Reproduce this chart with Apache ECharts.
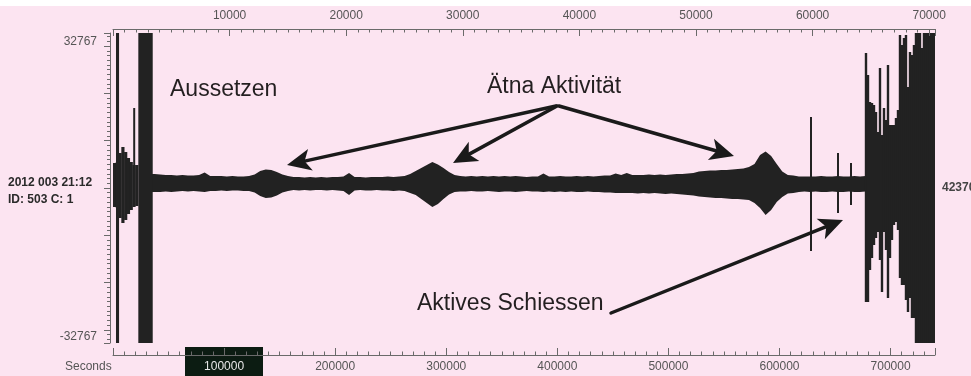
<!DOCTYPE html>
<html><head><meta charset="utf-8">
<script src="https://cdn.jsdelivr.net/npm/echarts@6/dist/echarts.min.js"></script>
<style>html,body{margin:0;padding:0;background:#fce4f1;overflow:hidden}#c{width:971px;height:376px}</style>
</head><body><div id="c"></div>
<script>
// ---------------- data (seconds / counts) ----------------
const SAT = 32767;
// quiet band envelope, 5000 s bins starting at 35000 s
const bandStart = 35000, bandStep = 5000;
const bandHi = [2960,2850,2750,2750,2640,2750,2640,2640,2750,3280,
  2540,2540,2540,2430,2540,2430,2430,2540,2850,3590,
  3910,3800,3380,2850,2540,2330,2330,2220,2330,2220,
  2330,2220,2330,2330,2430,3170,2330,2330,2220,2330,
  2330,2330,2430,2330,2430,2540,2960,3590,4230,4860,
  5500,4970,4230,3380,2750,2540,2430,2540,2430,2540,
  2430,2540,2430,2540,2430,2540,2430,2330,2430,2430,
  3070,2430,2430,2540,2430,2430,2540,2430,2540,2430,
  2540,2640,2640,3070,2750,3170,2750,2750,2750,2850,
  2750,2850,2750,2850,2960,2960,3070,3170,3490,3590,
  3700,3700,3800,3800,3910,4020,4120,4440,5070,6980,
  7720,6770,5070,3490,2750,2640,2430,2430,2430,2430,
  2540,2430,2430,2540,2430,2430,2540,2430,2540];
const bandLo = [-850,-850,-740,-850,-740,-630,-740,-630,-740,-850,
  -630,-630,-530,-630,-530,-530,-630,-630,-950,-1690,
  -2110,-2010,-1590,-950,-630,-420,-530,-420,-530,-420,
  -420,-530,-420,-530,-630,-1480,-530,-420,-530,-530,
  -420,-530,-530,-630,-530,-630,-1060,-1480,-2330,-3170,
  -4020,-3380,-2330,-1370,-850,-740,-740,-630,-740,-740,
  -630,-740,-850,-740,-740,-850,-740,-630,-740,-740,
  -850,-740,-850,-740,-850,-740,-850,-850,-740,-850,
  -850,-950,-950,-1060,-1060,-1060,-1060,-1160,-1060,-1160,
  -1060,-1160,-1270,-1160,-1270,-1370,-1480,-1590,-1800,-1900,
  -2010,-2110,-2110,-2220,-2330,-2330,-2430,-2540,-3170,-4230,
  -5710,-4650,-2960,-1900,-1160,-1060,-850,-740,-850,-740,
  -850,-850,-740,-850,-850,-740,-850,-850,-740];
// noisy start of the record, 2500 s bins from 0 s
const leftStart = 0, leftStep = 2500;
const leftHi = [5285,5500,7400,8670,7610,6340,5500,4860,4860];
const leftLo = [-4020,-4230,-6340,-7400,-6760,-5500,-4650,-4020,-3800];
// clipped (saturated) segments, seconds
const satStart = [2700, 22800];
const satEnd   = [5100, 35400];
// isolated spikes
const spikeT  = [18900, 628200, 652500, 664200];
const spikeHi = [16910, 15010, 7400, 5290];
const spikeLo = [-3590, -13320, -5290, -3590];
// shooting section, 1800 s columns from 676800 s
const blockStart = 676800, blockStep = 1800;
const blockHi = [28540,23890,18180,17970,17550,16070,11840,25370,11200,16910,
  14380,26000,13320,13320,13320,14800,16490,32340,30230,31710,
  32340,21350,28750,28120,30230,32767,32767,32767,29600,32767,
  32767,32767,32767,32767,32767];
const blockLo = [-24100,-24100,-17330,-14800,-12050,-10570,-9300,-15220,-21990,-9300,
  -13110,-23250,-14800,-10990,-7820,-7190,-8880,-19030,-20510,-20510,
  -23680,-26210,-23250,-27480,-27480,-32767,-32767,-32767,-32767,-32767,
  -32767,-32767,-32767,-32767,-32767];
// axes
const secMax = 740000, topMax = 70500;
const bottomLabels = [100000,200000,300000,400000,500000,600000,700000];
const topLabels = [10000,20000,30000,40000,50000,60000,70000];
const yLabels = [-32767, 32767];

// ---------------- build ----------------
const INK = '#222';
const rects = [];
leftHi.forEach((h,i)=>rects.push([leftStart+i*leftStep, leftStart+(i+1)*leftStep, leftLo[i], h]));
blockHi.forEach((h,i)=>rects.push([blockStart+i*blockStep, blockStart+(i+1)*blockStep, blockLo[i], h]));
satStart.forEach((s,i)=>rects.push([s, satEnd[i], -SAT, SAT]));
const spikes = spikeT.map((t,i)=>[t, t, spikeLo[i], spikeHi[i]]);

function renderRect(params, api){
  const t0=api.value(0), t1=api.value(1), lo=api.value(2), hi=api.value(3);
  const p0=api.coord([t0,hi]), p1=api.coord([t1,lo]);
  let x=p0[0], w=p1[0]-p0[0];
  if (w<1.6){ x=(p0[0]+p1[0])/2-0.8; w=1.6; }
  return {type:'rect', shape:{x:x, y:p0[1], width:w+0.4, height:p1[1]-p0[1]}, style:{fill:INK}};
}
// band drawn as one envelope polygon through bin centres
function renderBand(params, api){
  const up=[], dn=[];
  up.push(api.coord([bandStart, bandHi[0]]));
  dn.push(api.coord([bandStart, bandLo[0]]));
  for (let i=0;i<bandHi.length;i++){
    const t=bandStart+(i+0.5)*bandStep;
    up.push(api.coord([t, bandHi[i]]));
    dn.push(api.coord([t, bandLo[i]]));
  }
  const tEnd=bandStart+bandHi.length*bandStep;
  up.push(api.coord([tEnd, bandHi[bandHi.length-1]]));
  dn.push(api.coord([tEnd, bandLo[bandLo.length-1]]));
  return {type:'polygon', shape:{points:up.concat(dn.reverse())}, style:{fill:INK}};
}
function range(a,b,s){const r=[];for(let v=a;v<=b+1e-9;v+=s)r.push(v);return r;}

const axCol = '#6a6a6a', lblCol = '#555';
const FONT = 'Liberation Sans, Arial, sans-serif';
function xAxisBase(pos, offset, max){
  return {type:'value', position:pos, offset:offset, min:0, max:max, splitLine:{show:false}, z:5};
}
const xAxes = [
  Object.assign(xAxisBase('bottom',12,secMax), {
    axisLine:{show:true, onZero:false, lineStyle:{color:axCol, width:1}},
    axisTick:{show:true, inside:true, length:7, customValues:[0].concat(bottomLabels,[secMax]), lineStyle:{color:axCol}},
    axisLabel:{show:true, customValues:bottomLabels, margin:6, fontSize:12, fontFamily:FONT, color:lblCol,
      formatter:v=> v===100000 ? '{w|'+v+'}' : '{g|'+v+'}',
      rich:{w:{color:'#e6e6e6', fontSize:12, fontFamily:FONT}, g:{color:lblCol, fontSize:12, fontFamily:FONT}}}
  }),
  Object.assign(xAxisBase('bottom',12,secMax), {
    axisLine:{show:false, onZero:false}, axisLabel:{show:false},
    axisTick:{show:true, inside:true, length:3.5, customValues:range(0,secMax,10000), lineStyle:{color:axCol}}
  }),
  Object.assign(xAxisBase('top',4,topMax), {
    axisLine:{show:true, onZero:false, lineStyle:{color:axCol, width:1}},
    axisTick:{show:true, inside:true, length:7, customValues:[0].concat(topLabels,[topMax]), lineStyle:{color:axCol}},
    axisLabel:{show:true, customValues:topLabels, margin:7, fontSize:12, fontFamily:FONT, color:lblCol, formatter:v=>String(v)}
  }),
  Object.assign(xAxisBase('top',4,topMax), {
    axisLine:{show:false, onZero:false}, axisLabel:{show:false},
    axisTick:{show:true, inside:true, length:3.5, customValues:range(0,70000,1000), lineStyle:{color:axCol}}
  })
];
const yAxes = [
  {type:'value', position:'left', offset:3, min:-SAT, max:SAT, splitLine:{show:false}, z:5,
    axisLine:{show:true, onZero:false, lineStyle:{color:axCol, width:1}},
    axisTick:{show:true, inside:false, length:6, customValues:[-SAT].concat(range(-30000,30000,10000),[SAT]), lineStyle:{color:axCol}},
    axisLabel:{show:true, customValues:yLabels, margin:13, fontSize:12, fontFamily:FONT, color:lblCol,
      formatter:v=> v>0 ? '{t|'+v+'}' : '{b|'+v+'}',
      rich:{t:{padding:[18,0,0,0], fontSize:12, color:lblCol, fontFamily:FONT}, b:{padding:[0,0,12,0], fontSize:12, color:lblCol, fontFamily:FONT}}}
  },
  {type:'value', position:'left', offset:3, min:-SAT, max:SAT, splitLine:{show:false}, z:5,
    axisLine:{show:false, onZero:false}, axisLabel:{show:false},
    axisTick:{show:true, inside:false, length:3, customValues:range(-32000,32000,1000), lineStyle:{color:axCol}}
  }
];

function arrow(sx,sy,tx,ty){
  const dx=tx-sx, dy=ty-sy, L=Math.hypot(dx,dy), ux=dx/L, uy=dy/L, nx=-uy, ny=ux;
  const len=24, half=11, notch=18;
  const bx=tx-ux*len, by=ty-uy*len, mx=tx-ux*notch, my=ty-uy*notch;
  return [
    {type:'line', z:100, shape:{x1:sx,y1:sy,x2:mx,y2:my}, style:{stroke:'#1a1a1a', lineWidth:3.5, lineCap:'round'}},
    {type:'polygon', z:100, shape:{points:[[tx,ty],[bx+nx*half,by+ny*half],[mx,my],[bx-nx*half,by-ny*half]]}, style:{fill:'#1a1a1a'}}
  ];
}
const annFont = '23px Liberation Sans, Arial, sans-serif';
const graphics = [
  {type:'rect', z:0, shape:{x:0,y:0,width:971,height:6}, style:{fill:'#ffffff'}},
  {type:'rect', z:1, shape:{x:185,y:347,width:78,height:29}, style:{fill:'#0c1c12'}},
  {type:'text', z:100, style:{text:'Aussetzen', x:170, y:90, font:annFont, fill:'#231f20', verticalAlign:'middle'}},
  {type:'text', z:100, style:{text:'Ätna Aktivität', x:487, y:87, font:annFont, fill:'#231f20', verticalAlign:'middle'}},
  {type:'text', z:100, style:{text:'Aktives Schiessen', x:417, y:304, font:annFont, fill:'#231f20', verticalAlign:'middle'}},
  {type:'text', z:100, style:{text:'2012 003 21:12', x:8, y:183, font:'bold 12px Liberation Sans, Arial, sans-serif', fill:'#2a2a2a', verticalAlign:'middle'}},
  {type:'text', z:100, style:{text:'ID: 503 C: 1', x:8, y:200, font:'bold 12px Liberation Sans, Arial, sans-serif', fill:'#2a2a2a', verticalAlign:'middle'}},
  {type:'text', z:100, style:{text:'42370', x:942, y:188, font:'bold 12px Liberation Sans, Arial, sans-serif', fill:'#444', verticalAlign:'middle'}},
  {type:'text', z:100, style:{text:'Seconds', x:65, y:367, font:'12px Liberation Sans, Arial, sans-serif', fill:'#555', verticalAlign:'middle'}}
].concat(arrow(556,106,287,165), arrow(557,106,453,163), arrow(559,106,734,156), arrow(611,313,843,220));

const chart = echarts.init(document.getElementById('c'), null, {renderer:'canvas'});
chart.setOption({
  animation:false,
  backgroundColor:'#fce4f1',
  grid:{left:113, right:36, top:33, bottom:33, containLabel:false},
  xAxis:xAxes,
  yAxis:yAxes,
  graphic:graphics,
  series:[
    {type:'custom', xAxisIndex:0, yAxisIndex:0, clip:true, renderItem:renderBand, data:[[bandStart,0]], encode:{x:0, y:1}, z:3},
    {type:'custom', xAxisIndex:0, yAxisIndex:0, clip:true, renderItem:renderRect, data:rects, encode:{x:[0,1], y:[2,3]}, z:3},
    {type:'custom', xAxisIndex:0, yAxisIndex:0, clip:true, renderItem:renderRect, data:spikes, encode:{x:[0,1], y:[2,3]}, z:3}
  ]
});
</script></body></html>
